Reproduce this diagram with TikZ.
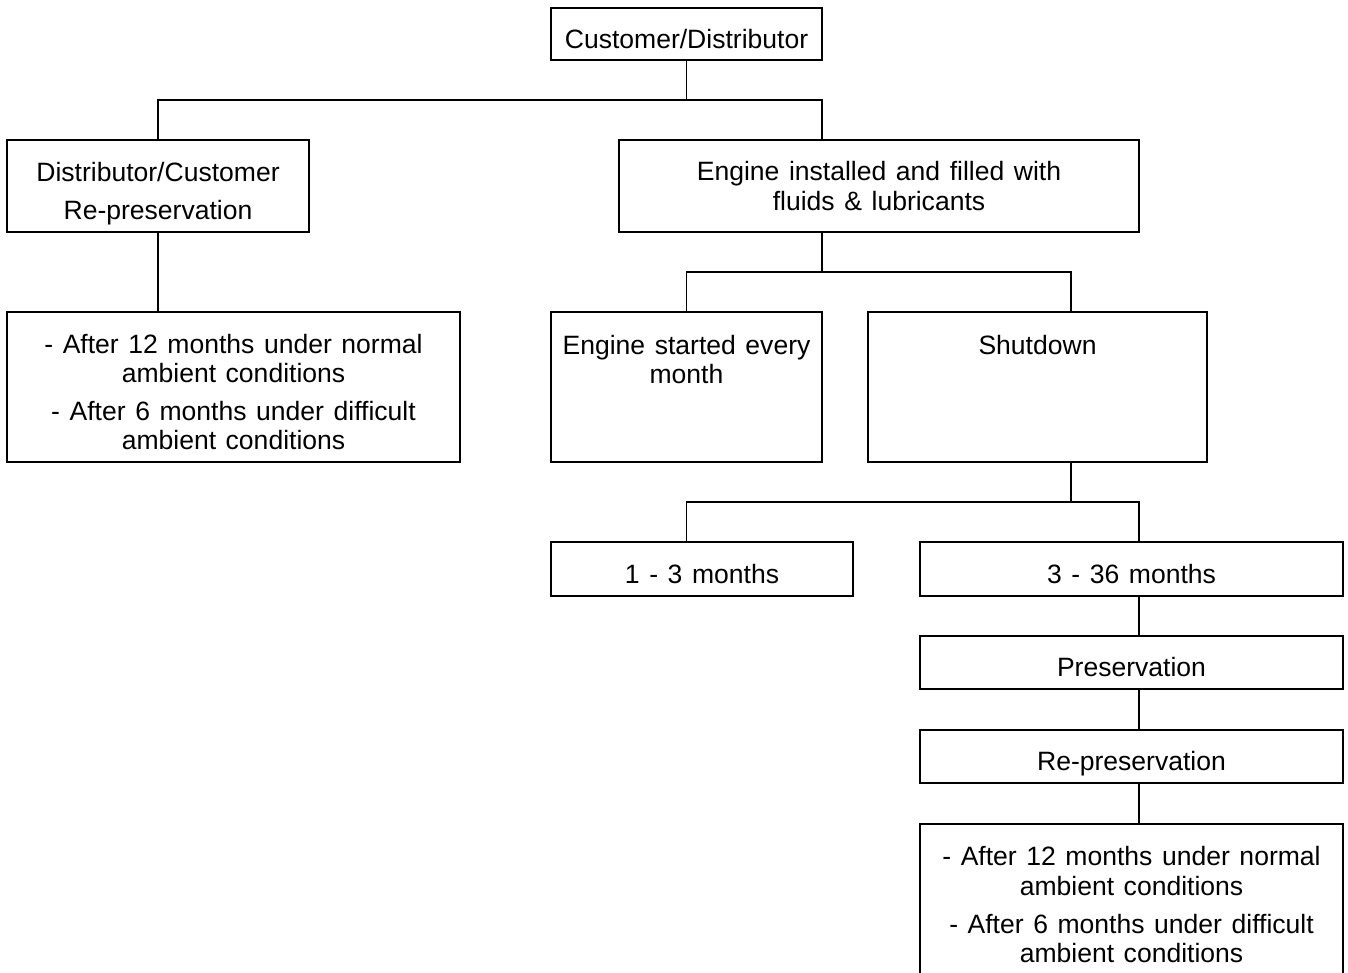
\documentclass[tikz,border=0pt]{standalone}
\usepackage{fontspec}
\setmainfont{Liberation Sans}[WordSpace=1.3]
\begin{document}
\begin{tikzpicture}[x=0.75pt,y=-0.75pt,
  box/.style={draw,line width=1pt,inner sep=0pt,outer sep=0pt,align=center,
    font=\fontsize{19.9pt}{22pt}\selectfont},
  one/.style={box,text height=21.5pt,text depth=0pt},
  txt/.style={inner sep=0pt,align=center,font=\fontsize{19.9pt}{22pt}\selectfont},
  link/.style={line width=1pt}]
\useasboundingbox (0,0) rectangle (1348,973);
% boxes
\node[one,minimum width=203.25pt,minimum height=39pt] (cd) at (686.5,34) {Customer/Distributor};
\node[box,minimum width=226.5pt,minimum height=69pt] (dc) at (158,186) {};
\node[txt,yshift=-6pt] (dctxt) at (dc.center) {Distributor/Customer\\[6.5pt]Re-preservation};
\node[box,minimum width=390pt,minimum height=69pt] (eng) at (879,186) {Engine installed and filled with\\fluids \& lubricants};
\node[box,minimum width=339.75pt,minimum height=112.5pt] (lstA) at (233.5,387) {};
\node[txt,yshift=-3.75pt] (lstAtxt) at (lstA.center) {- After 12 months under normal\\ambient conditions\\[6.5pt]- After 6 months under difficult\\ambient conditions};
\node[box,minimum width=203.25pt,minimum height=112.5pt] (start) at (686.5,387) {};
\node[txt,anchor=north,yshift=-17pt] (starttxt) at (start.north) {Engine started every\\month};
\node[box,minimum width=254.25pt,minimum height=112.5pt] (shut) at (1037.5,387) {};
\node[txt,anchor=north,yshift=-17pt] (shuttxt) at (shut.north) {Shutdown};
\node[one,minimum width=226.5pt,minimum height=40.5pt] (m13) at (702,569) {1 - 3 months};
\node[one,minimum width=317.25pt,minimum height=40.5pt] (m336) at (1131.5,569) {3 - 36 months};
\node[one,minimum width=317.25pt,minimum height=39.75pt] (pres) at (1131.5,662.5) {Preservation};
\node[one,minimum width=317.25pt,minimum height=39.75pt] (repres) at (1131.5,756.5) {Re-preservation};
\node[box,minimum width=317.25pt,minimum height=114pt] (lstB) at (1131.5,900) {};
\node[txt,yshift=-3.5pt] (lstBtxt) at (lstB.center) {- After 12 months under normal\\ambient conditions\\[6.5pt]- After 6 months under difficult\\ambient conditions};
% bus coordinates
\coordinate (j1) at (0,100);
\coordinate (j2) at (0,272);
\coordinate (j3) at (0,502);
\coordinate (s1) at (1071,0);
% connectors
\draw[link] (cd.south) -- (cd.south |- j1);
\draw[link] (dc.north) -- (dc.north |- j1) -- (j1 -| start.east) -- (eng.north -| start.east);
\draw[link] (dc.south) -- (dc.south |- lstA.north);
\draw[link] (eng.south -| start.east) -- (j2 -| start.east);
\draw[link] (start.north) -- (start.north |- j2) -- (j2 -| s1) -- (shut.north -| s1);
\draw[link] (shut.south -| s1) -- (j3 -| s1);
\draw[link] (m13.north -| start.north) -- (j3 -| start.north) -- (j3 -| eng.east) -- (m336.north -| eng.east);
\draw[link] (m336.south -| eng.east) -- (pres.north -| eng.east);
\draw[link] (pres.south -| eng.east) -- (repres.north -| eng.east);
\draw[link] (repres.south -| eng.east) -- (lstB.north -| eng.east);
\end{tikzpicture}
\end{document}
